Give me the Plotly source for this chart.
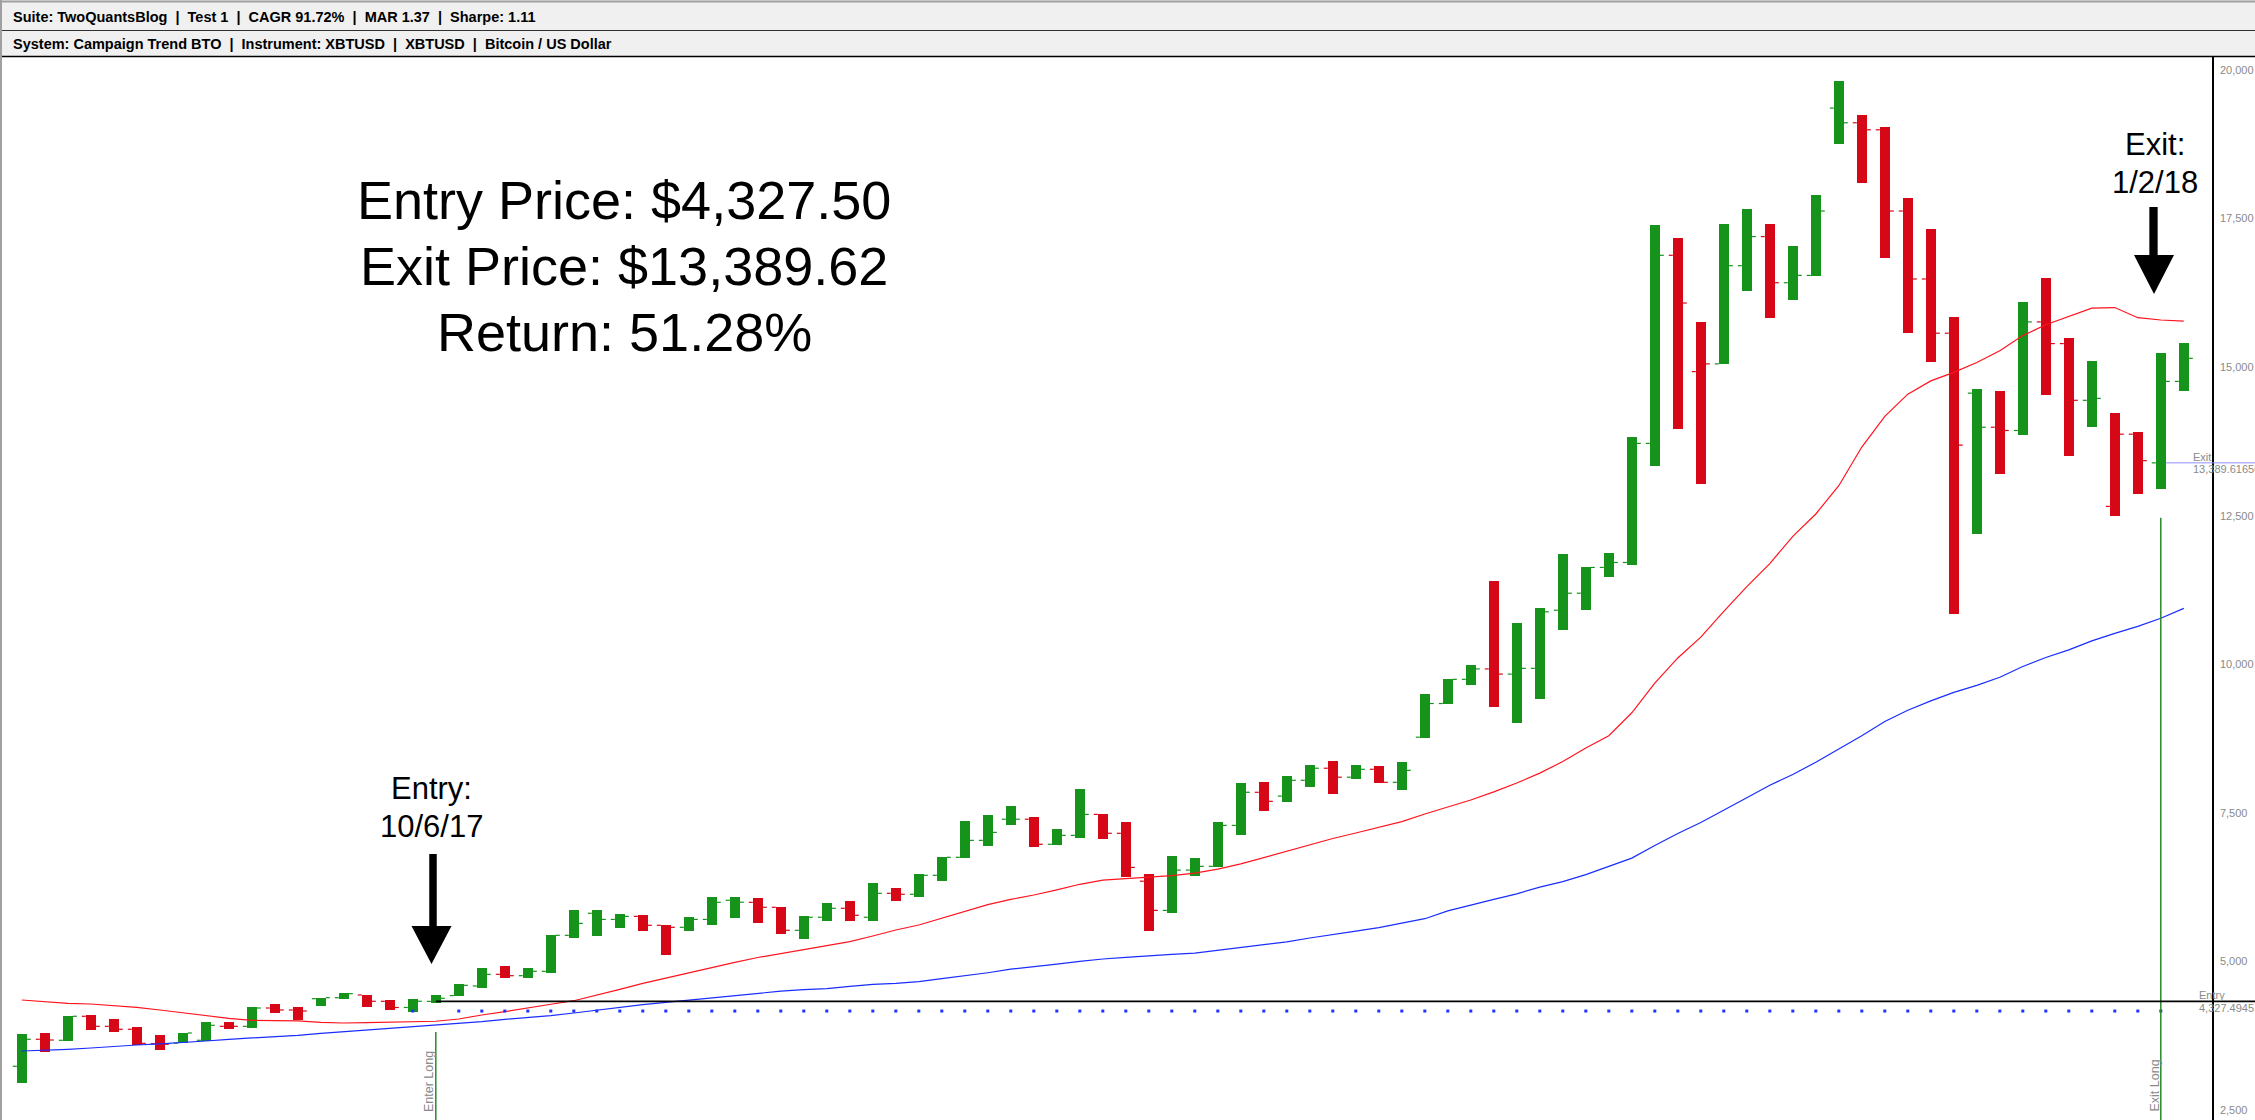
import plotly.graph_objects as go

# ---------------- data ----------------
bar_open = [3235, 3690, 3673, 4077, 3908, 3858, 3616, 3625, 3673, 3908,
            3908, 4216, 4183, 4373, 4390, 4435, 4329, 4225, 4327.5, 4425,
            4587, 4783, 4760, 4834, 5439, 5810, 5707, 5758, 5608, 5574,
            5707, 6029, 5995, 5911, 5524, 5743, 5894, 5743, 6146, 6130,
            6449, 6752, 7037, 7393, 7393, 6971, 7121, 7474, 7156, 6350,
            5859, 6537, 6600, 7289, 7846, 7782, 8048, 8251, 8100, 8233,
            8014, 8773, 9340, 9747, 9922, 9835, 9932, 10910, 11196, 11630,
            11713, 13717, 16882, 14925, 15055, 16707, 17197, 16421, 16544, 19359,
            19112, 18994, 17627, 16483, 15571, 14562, 13989, 13934, 15761, 15396,
            14442, 12657, 13872, 13389.62, 14760]
bar_high = [3779, 3796, 4082, 4099, 4031, 3897, 3762, 3796, 3981, 3981,
            4233, 4284, 4233, 4390, 4469, 4435, 4351, 4368, 4435, 4620,
            4889, 4923, 4889, 5445, 5865, 5865, 5798, 5781, 5613, 5748,
            6084, 6084, 6067, 5916, 5764, 5983, 6017, 6320, 6236, 6471,
            6757, 7363, 7464, 7615, 7429, 7232, 7903, 7481, 7348, 6473,
            6774, 6739, 7348, 8002, 8019, 8124, 8304, 8373, 8304, 8292,
            8356, 9503, 9747, 9988, 11400, 10698, 10947, 11852, 11639, 11871,
            13826, 17390, 17168, 15756, 17409, 17658, 17409, 17039, 17897, 19818,
            19239, 19041, 17850, 17333, 15840, 14634, 14602, 16095, 16500, 15490,
            15102, 14228, 13910, 15236, 15403]
bar_low = [2949, 3481, 3666, 3846, 3812, 3589, 3510, 3620, 3661, 3868,
           3885, 4137, 4019, 4255, 4368, 4238, 4188, 4154, 4306, 4423,
           4553, 4726, 4726, 4810, 5399, 5433, 5568, 5515, 5113, 5515,
           5618, 5734, 5652, 5467, 5382, 5684, 5684, 5684, 6022, 6089,
           6358, 6745, 6946, 7296, 6924, 6959, 7075, 7064, 6421, 5505,
           5817, 6437, 6589, 7127, 7533, 7683, 7938, 7817, 8071, 8002,
           7886, 8766, 9335, 9646, 9276, 9009, 9416, 10577, 10910, 11464,
           11667, 13338, 13956, 13034, 15046, 16273, 15820, 16135, 16532, 18755,
           18104, 16833, 15578, 15087, 10838, 12187, 13204, 13855, 14530, 13513,
           13989, 12497, 12862, 12950, 14602]
bar_close = [3690, 3678, 4077, 3908, 3858, 3622, 3606, 3796, 3925, 3908,
             4216, 4183, 4166, 4390, 4457, 4329, 4225, 4330, 4380, 4598,
             4783, 4760, 4834, 5440, 5640, 5707, 5758, 5608, 5574, 5707,
             5995, 5997, 5911, 5524, 5743, 5894, 5776, 6146, 6130, 6449,
             6752, 7037, 7171, 7393, 6971, 7121, 7474, 7156, 6582, 5859,
             6537, 6600, 7289, 7846, 7694, 8048, 8251, 8100, 8233, 8014,
             8216, 9340, 9747, 9922, 9835, 9932, 10883, 11196, 11630, 11713,
             13717, 16882, 16079, 15055, 16707, 17197, 16421, 16544, 17627, 19112,
             18994, 17627, 16483, 15571, 13688, 13989, 13934, 15761, 15396, 14442,
             14474, 13872, 13426, 14760, 15149]
ma_fast = [4351, 4317, 4295, 4284, 4255, 4228, 4183, 4137, 4082, 4043,
           4009, 4001, 3998, 3976, 3964, 3969, 3976, 3981, 3993, 4031,
           4099, 4154, 4211, 4279, 4339, 4432, 4531, 4632, 4719, 4812,
           4905, 4985, 5066, 5132, 5207, 5263, 5332, 5428, 5529, 5613,
           5731, 5837, 5955, 6044, 6118, 6205, 6298, 6369, 6397, 6421,
           6443, 6485, 6554, 6641, 6750, 6860, 6971, 7069, 7161, 7260,
           7353, 7481, 7595, 7716, 7854, 8002, 8169, 8363, 8591, 8797,
           9184, 9682, 10107, 10457, 10892, 11307, 11694, 12152, 12529, 13005,
           13656, 14173, 14546, 14769, 14912, 15078, 15277, 15531, 15714, 15856,
           15992, 16003, 15832, 15793, 15776]
ma_slow = [3493, 3505, 3521, 3543, 3572, 3594, 3611, 3632, 3661, 3690,
           3712, 3733, 3757, 3791, 3818, 3846, 3875, 3902, 3925, 3952,
           3986, 4026, 4053, 4087, 4132, 4179, 4237, 4272, 4312, 4351,
           4393, 4432, 4472, 4499, 4526, 4544, 4581, 4615, 4632, 4659,
           4709, 4755, 4810, 4869, 4908, 4953, 5000, 5041, 5069, 5088,
           5117, 5140, 5186, 5238, 5285, 5330, 5394, 5446, 5510, 5568,
           5638, 5719, 5850, 5953, 6045, 6138, 6249, 6342, 6461, 6599,
           6739, 6951, 7154, 7338, 7541, 7753, 7965, 8144, 8352, 8575,
           8797, 9036, 9226, 9384, 9527, 9646, 9781, 9964, 10114, 10242,
           10394, 10520, 10639, 10774, 10940]
stop_bars = [17, 19, 20, 21, 22, 23, 24, 25, 26, 27, 28, 29, 30, 31, 32, 33, 34,
             35, 36, 37, 38, 39, 40, 41, 42, 43, 44, 45, 46, 47, 48, 49, 50, 51,
             52, 53, 54, 55, 56, 57, 58, 59, 60, 61, 62, 63, 64, 65, 66, 67, 68,
             69, 70, 71, 72, 73, 74, 75, 76, 77, 78, 79, 80, 81, 82, 83, 84, 85,
             86, 87, 88, 89, 90, 91, 92, 93]
stop_level = [4165, 4165, 4165, 4165, 4165, 4165, 4165, 4165, 4165, 4165, 4165,
              4165, 4165, 4165, 4165, 4165, 4165, 4165, 4165, 4165, 4165, 4165,
              4165, 4165, 4165, 4165, 4165, 4165, 4165, 4165, 4165, 4165, 4165,
              4165, 4165, 4165, 4165, 4165, 4165, 4165, 4165, 4165, 4165, 4165,
              4165, 4165, 4165, 4165, 4165, 4165, 4165, 4165, 4165, 4165, 4165,
              4165, 4165, 4165, 4165, 4165, 4165, 4165, 4165, 4165, 4165, 4165,
              4165, 4165, 4165, 4165, 4165, 4165, 4165, 4165, 4165, 4165]
y_tick_values = [2500, 5000, 7500, 10000, 12500, 15000, 17500, 20000]
entry_bar = 18
exit_bar = 93
entry_price = 4327.49451
exit_price = 13389.6165
enter_marker_top = 3812
exit_marker_top = 12465
header_1 = "Suite: TwoQuantsBlog  |  Test 1  |  CAGR 91.72%  |  MAR 1.37  |  Sharpe: 1.11"
header_2 = "System: Campaign Trend BTO  |  Instrument: XBTUSD  |  XBTUSD  |  Bitcoin / US Dollar"
summary_lines = ["Entry Price: $4,327.50", "Exit Price: $13,389.62", "Return: 51.28%"]

# ---------------- styling / geometry ----------------
W, H = 2255, 1120
ML, MR, MT, MB = 2, 43, 57, 0
PW, PH = W - ML - MR, H - MT - MB
x_range = [-0.861, 95.226]
y_range = [2331.7, 20218.8]
GREEN = "#15931b"
RED = "#d60818"
HALF = 0.2174      # half body width (bar units)
TICK_OUT = 0.3913  # end of open/close tick


def px_x(px):
    return (px - ML) / PW


def px_y(py):
    return (H - MB - py) / PH


def data_x_paper(x):
    return (x - x_range[0]) / (x_range[1] - x_range[0])


def data_y_paper(y):
    return (y - y_range[0]) / (y_range[1] - y_range[0])


n = len(bar_open)
idx = list(range(n))
colors = []
for i in range(n):
    if i == 0 or bar_close[i] >= bar_close[i - 1]:
        colors.append(GREEN)
    else:
        colors.append(RED)

fig = go.Figure()

fig.add_trace(go.Bar(
    x=idx, y=[bar_high[i] - bar_low[i] for i in idx], base=bar_low,
    width=2 * HALF, marker=dict(color=colors, line=dict(width=0)),
    hoverinfo="skip"))

for col in (GREEN, RED):
    xs, ys = [], []
    for i in idx:
        if colors[i] != col:
            continue
        xs += [i - TICK_OUT, i - HALF, None, i + HALF, i + TICK_OUT, None]
        ys += [bar_open[i], bar_open[i], None, bar_close[i], bar_close[i], None]
    fig.add_trace(go.Scatter(x=xs, y=ys, mode="lines",
                             line=dict(color=col, width=1.2), hoverinfo="skip"))

fig.add_trace(go.Scatter(x=idx, y=ma_fast, mode="lines",
                         line=dict(color="rgb(255,20,30)", width=1.2)))
fig.add_trace(go.Scatter(x=idx, y=ma_slow, mode="lines",
                         line=dict(color="rgb(25,45,255)", width=1.2)))
fig.add_trace(go.Scatter(x=stop_bars, y=stop_level, mode="markers",
                         marker=dict(symbol="square", size=3, color="rgb(30,50,255)")))

# Enter / exit marker lines
fig.add_trace(go.Scatter(x=[entry_bar, entry_bar], y=[enter_marker_top, y_range[0]],
                         mode="lines", line=dict(color="#2a8a2a", width=1.5)))
fig.add_trace(go.Scatter(x=[exit_bar, exit_bar], y=[exit_marker_top, y_range[0]],
                         mode="lines", line=dict(color="#2a8a2a", width=1.5)))

shapes = []
# header
shapes.append(dict(type="rect", xref="paper", yref="paper", x0=px_x(0), x1=px_x(W),
                   y0=px_y(57), y1=px_y(0), fillcolor="#f0f0f0", line=dict(width=0), layer="above"))
shapes.append(dict(type="line", xref="paper", yref="paper", x0=px_x(0), x1=px_x(W),
                   y0=px_y(1.5), y1=px_y(1.5), line=dict(color="#a0a0a0", width=2)))
shapes.append(dict(type="line", xref="paper", yref="paper", x0=px_x(0), x1=px_x(W),
                   y0=px_y(30.5), y1=px_y(30.5), line=dict(color="#303030", width=1)))
shapes.append(dict(type="line", xref="paper", yref="paper", x0=px_x(0), x1=px_x(W),
                   y0=px_y(56.5), y1=px_y(56.5), line=dict(color="#000000", width=1.5)))
shapes.append(dict(type="line", xref="paper", yref="paper", x0=px_x(1), x1=px_x(1),
                   y0=px_y(H), y1=px_y(0), line=dict(color="#a0a0a0", width=2)))
# entry / exit price lines
shapes.append(dict(type="line", xref="paper", yref="paper",
                   x0=data_x_paper(entry_bar), x1=px_x(W),
                   y0=data_y_paper(entry_price), y1=data_y_paper(entry_price),
                   line=dict(color="black", width=1.6)))
shapes.append(dict(type="line", xref="paper", yref="paper",
                   x0=data_x_paper(exit_bar + HALF), x1=px_x(W),
                   y0=data_y_paper(exit_price), y1=data_y_paper(exit_price),
                   line=dict(color="#9090ff", width=1)))


def arrow(cx_shaft, sw, top, head_top, cx_head, hw, tip):
    return dict(type="path", xref="paper", yref="paper",
                path=("M {a},{b} L {c},{b} L {c},{d} L {e},{d} L {f},{g} L {h},{d} L {a},{d} Z"
                      .format(a=px_x(cx_shaft - sw / 2), b=px_y(top),
                              c=px_x(cx_shaft + sw / 2), d=px_y(head_top),
                              e=px_x(cx_head + hw / 2), f=px_x(cx_head), g=px_y(tip),
                              h=px_x(cx_head - hw / 2))),
                fillcolor="black", line=dict(width=0))


shapes.append(arrow(433, 7.5, 854, 926, 431.5, 40, 964))
shapes.append(arrow(2153.5, 8.3, 207, 255, 2154, 40, 294))

annotations = []
annotations.append(dict(text="<b>%s</b>" % header_1, xref="paper", yref="paper",
                        x=px_x(11), y=px_y(17), xanchor="left", yanchor="middle", showarrow=False,
                        font=dict(family="Liberation Sans", size=14.5, color="black")))
annotations.append(dict(text="<b>%s</b>" % header_2, xref="paper", yref="paper",
                        x=px_x(11), y=px_y(44), xanchor="left", yanchor="middle", showarrow=False,
                        font=dict(family="Liberation Sans", size=14.5, color="black")))
for line, cy in zip(summary_lines, [200, 266, 332]):
    annotations.append(dict(text=line, xref="paper", yref="paper", x=px_x(624), y=px_y(cy),
                            xanchor="center", yanchor="middle", showarrow=False,
                            font=dict(family="Liberation Sans", size=54, color="black")))
for txt, cx, cy in [("Entry:", 431, 788), ("10/6/17", 431, 826),
                    ("Exit:", 2154.5, 144), ("1/2/18", 2154.5, 182)]:
    annotations.append(dict(text=txt, xref="paper", yref="paper", x=px_x(cx), y=px_y(cy),
                            xanchor="center", yanchor="middle", showarrow=False,
                            font=dict(family="Liberation Sans", size=31, color="black")))
for txt, cx, cy in [("Enter Long", 429, 1082), ("Exit Long", 2154.5, 1086)]:
    annotations.append(dict(text=txt, xref="paper", yref="paper", x=px_x(cx), y=px_y(cy),
                            xanchor="center", yanchor="middle", showarrow=False, textangle=-90,
                            font=dict(family="Liberation Sans", size=12.5, color="#8a8a8a")))
label_font = dict(family="Liberation Sans", size=11, color="#8a8a8a")
annotations.append(dict(text="Entry", xref="paper", yref="paper", x=px_x(2197),
                        y=data_y_paper(entry_price) + 6 / PH, xanchor="left", yanchor="middle",
                        showarrow=False, font=label_font))
annotations.append(dict(text="{:,.5f}".format(entry_price), xref="paper", yref="paper", x=px_x(2197),
                        y=data_y_paper(entry_price) - 7 / PH, xanchor="left", yanchor="middle",
                        showarrow=False, font=label_font))
annotations.append(dict(text="Exit", xref="paper", yref="paper", x=px_x(2191),
                        y=data_y_paper(exit_price) + 6 / PH, xanchor="left", yanchor="middle",
                        showarrow=False, font=label_font))
annotations.append(dict(text="{:,.5f}".format(exit_price), xref="paper", yref="paper", x=px_x(2191),
                        y=data_y_paper(exit_price) - 6 / PH, xanchor="left", yanchor="middle",
                        showarrow=False, font=label_font))

fig.update_layout(
    width=W, height=H,
    margin=dict(l=ML, r=MR, t=MT, b=MB, autoexpand=False),
    paper_bgcolor="white", plot_bgcolor="white",
    showlegend=False, bargap=0,
    xaxis=dict(range=x_range, visible=False, fixedrange=True),
    yaxis=dict(range=y_range, side="right", showgrid=False, zeroline=False,
               showline=True, linecolor="black", linewidth=1.5,
               tickmode="array", tickvals=y_tick_values, tickformat=",d", ticks="",
               tickfont=dict(family="Liberation Sans", size=11, color="#8a8a8a"),
               ticklabelstandoff=4, fixedrange=True),
    shapes=shapes, annotations=annotations,
)

fig.write_html("out.html", config={"displayModeBar": False})
